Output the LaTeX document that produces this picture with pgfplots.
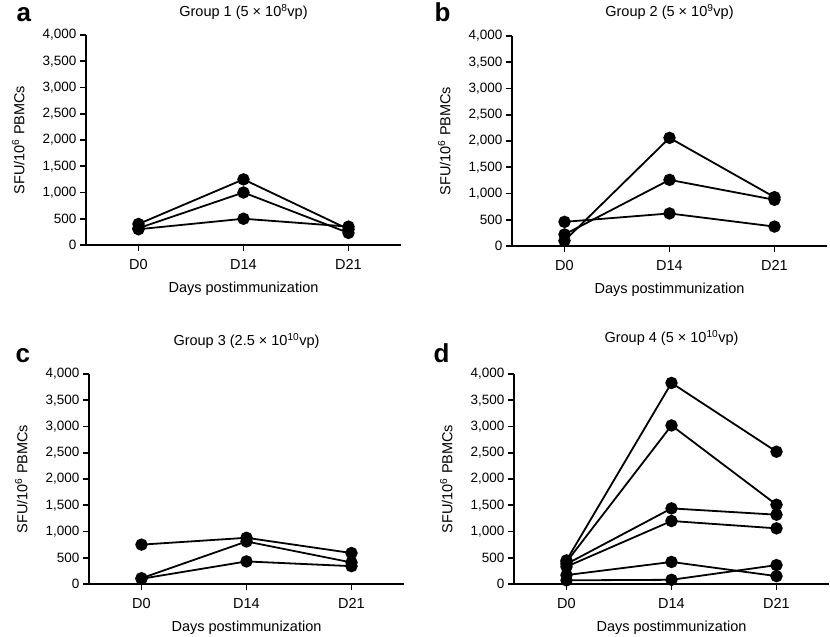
\documentclass[border=0pt]{standalone}
\usepackage{fontspec}
\setmainfont{Liberation Sans}
\usepackage{pgfplots}
\pgfplotsset{compat=1.18}

\pgfplotsset{
  panel/.style={
    scale only axis, width=315pt, height=210pt,
    xmin=-0.5, xmax=2.5, ymin=0, ymax=4000,
    clip=false,
    axis x line*=bottom, axis y line*=left,
    axis line style={line width=1.8pt, black},
    tick align=outside, major tick length=6pt,
    every tick/.style={line width=1.6pt, black},
    xtick={0,1,2}, xticklabels={D0,D14,D21},
    ytick={0,500,...,4000},
    scaled y ticks=false,
    yticklabel style={font=\fontsize{13.5}{15}\selectfont,
      /pgf/number format/1000 sep={,},
      /pgf/number format/assume math mode=true},
    xticklabel style={font=\fontsize{14.5}{16}\selectfont, yshift=-5pt},
    xlabel={Days postimmunization},
    ylabel={SFU/10\textsuperscript{6} PBMCs},
    xlabel style={font=\fontsize{14.5}{16}\selectfont,
      at={(axis description cs:0.5,-0.228)}, anchor=base},
    ylabel style={font=\fontsize{14.5}{16}\selectfont,
      at={(axis description cs:-0.215,0.5)}, anchor=center},
    title style={font=\fontsize{14.5}{16}\selectfont,
      at={(axis description cs:0.5,1)}, anchor=base},
  },
  dot/.style={black, solid, line width=1.8pt,
    mark=*, mark size=5.3pt, mark options={solid, fill=black, draw=black}},
}
\tikzset{letter/.style={anchor=base west, font=\fontsize{26}{28}\selectfont\bfseries}}

\begin{document}
\begin{tikzpicture}
\path[use as bounding box] (0,0) rectangle (830pt,637pt);

% a
\begin{axis}[panel, at={(86pt,392pt)}, anchor=south west,
  title={Group 1 (5 × 10\textsuperscript{8}vp)}, title style={yshift=12pt}]
\addplot[dot] coordinates {(0,400) (1,1250) (2,300)};
\addplot[dot] coordinates {(0,320) (1,1000) (2,230)};
\addplot[dot] coordinates {(0,300) (1,500) (2,350)};
\end{axis}

% b
\begin{axis}[panel, at={(512pt,391pt)}, anchor=south west,
  title={Group 2 (5 × 10\textsuperscript{9}vp)}, title style={yshift=13pt}]
\addplot[dot] coordinates {(0,100) (1,2060) (2,930)};
\addplot[dot] coordinates {(0,220) (1,1260) (2,880)};
\addplot[dot] coordinates {(0,460) (1,620) (2,370)};
\end{axis}

% c
\begin{axis}[panel, at={(89pt,53pt)}, anchor=south west,
  title={Group 3 (2.5 × 10\textsuperscript{10}vp)}, title style={yshift=22pt}]
\addplot[dot] coordinates {(0,750) (1,880) (2,590)};
\addplot[dot] coordinates {(0,110) (1,810) (2,410)};
\addplot[dot] coordinates {(0,100) (1,430) (2,340)};
\end{axis}

% d
\begin{axis}[panel, at={(514pt,53pt)}, anchor=south west,
  title={Group 4 (5 × 10\textsuperscript{10}vp)}, title style={yshift=25pt}]
\addplot[dot] coordinates {(0,450) (1,3830) (2,2520)};
\addplot[dot] coordinates {(0,420) (1,3020) (2,1510)};
\addplot[dot] coordinates {(0,380) (1,1440) (2,1320)};
\addplot[dot] coordinates {(0,330) (1,1200) (2,1060)};
\addplot[dot] coordinates {(0,170) (1,420) (2,150)};
\addplot[dot] coordinates {(0,70) (1,80) (2,360)};
\end{axis}

\node[letter] at (13pt,615pt) {a};
\node[letter] at (431pt,615pt) {b};
\node[letter] at (12pt,274pt) {c};
\node[letter] at (430pt,274pt) {d};
\end{tikzpicture}
\end{document}
